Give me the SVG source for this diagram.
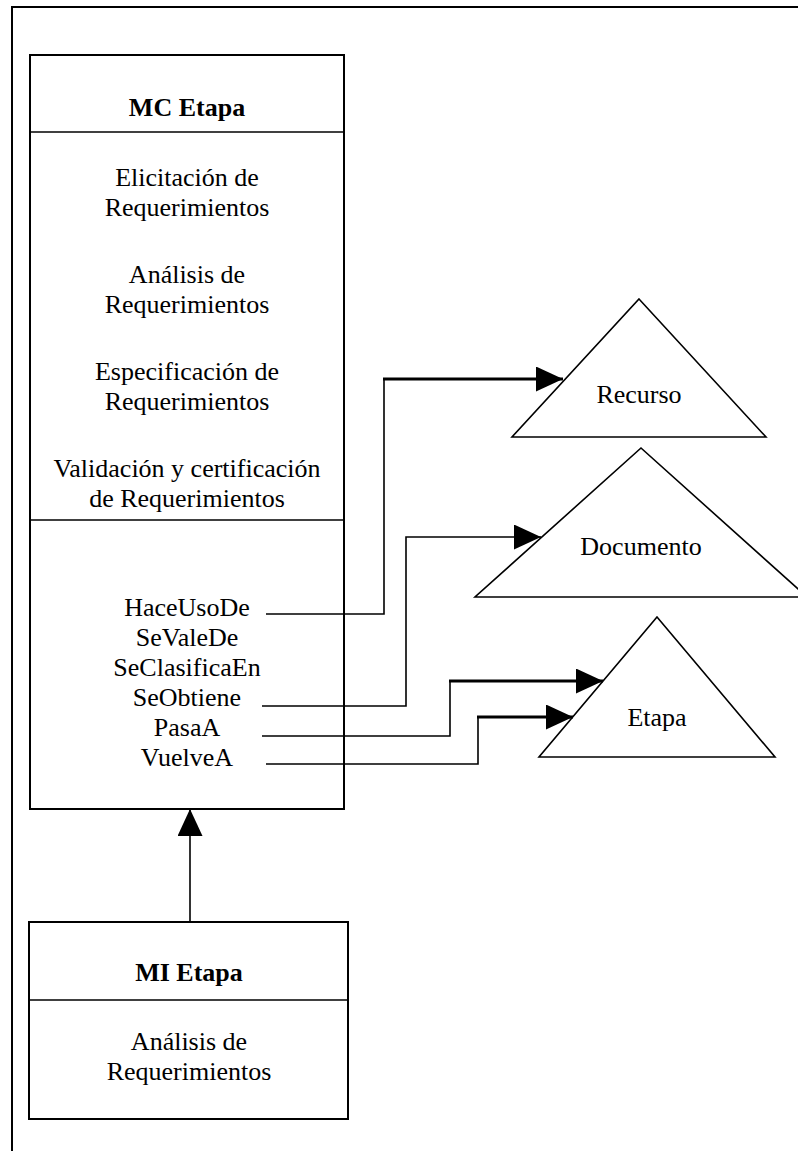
<svg xmlns="http://www.w3.org/2000/svg" width="798" height="1151" viewBox="0 0 798 1151">
<style>
text{font-family:"Liberation Serif","Times New Roman",serif;font-size:26px;fill:#000;text-anchor:middle}
.b{font-weight:bold}
.box{fill:#fff;stroke:#000;stroke-width:2}
.tri{fill:#fff;stroke:#000;stroke-width:1.6}
.ln{fill:none;stroke:#000;stroke-width:1.6}
.thk{fill:none;stroke:#000;stroke-width:3}
</style>
<defs>
<marker id="ah" markerUnits="userSpaceOnUse" markerWidth="28" markerHeight="26" refX="27" refY="12.5" orient="auto">
<path d="M0,0 L27,12.5 L0,25 Z" fill="#000"/>
</marker>
</defs>
<rect x="12" y="7" width="800" height="1160" fill="#fff" stroke="#000" stroke-width="2"/>
<g id="mc-etapa">
<rect class="box" x="30" y="55" width="314" height="754"/>
<line class="ln" x1="30" y1="132" x2="344" y2="132" stroke-width="2"/>
<line class="ln" x1="30" y1="520" x2="344" y2="520" stroke-width="2"/>
<text class="b" x="187" y="116">MC Etapa</text>
<text x="187" y="186">Elicitación de</text>
<text x="187" y="216">Requerimientos</text>
<text x="187" y="283">Análisis de</text>
<text x="187" y="313">Requerimientos</text>
<text x="187" y="380">Especificación de</text>
<text x="187" y="410">Requerimientos</text>
<text x="187" y="477">Validación y certificación</text>
<text x="187" y="507">de Requerimientos</text>
<text x="187" y="616">HaceUsoDe</text>
<text x="187" y="646">SeValeDe</text>
<text x="187" y="676">SeClasificaEn</text>
<text x="187" y="706">SeObtiene</text>
<text x="187" y="736">PasaA</text>
<text x="187" y="766">VuelveA</text>
</g>
<g id="mi-etapa">
<rect class="box" x="29" y="922" width="319" height="197"/>
<line class="ln" x1="29" y1="1000" x2="348" y2="1000" stroke-width="2"/>
<text class="b" x="189" y="981">MI Etapa</text>
<text x="189" y="1050">Análisis de</text>
<text x="189" y="1080">Requerimientos</text>
</g>
<g id="recurso">
<polygon class="tri" points="639,299 766,437 512,437"/>
<text x="639" y="403">Recurso</text>
</g>
<g id="documento">
<polygon class="tri" points="641,448 807,597 475,597"/>
<text x="641" y="555">Documento</text>
</g>
<g id="etapa">
<polygon class="tri" points="657,617 775,757 539,757"/>
<text x="657" y="726">Etapa</text>
</g>
<g id="connectors">
<polyline class="ln" points="266,614 384,614 384,379"/>
<polyline class="thk" points="383,379 563,379" marker-end="url(#ah)"/>
<polyline class="ln" points="262,706 406,706 406,537 541,537" marker-end="url(#ah)"/>
<polyline class="ln" points="262,736 450,736 450,681"/>
<polyline class="thk" points="449,681 603,681" marker-end="url(#ah)"/>
<polyline class="ln" points="266,764 478,764 478,717"/>
<polyline class="thk" points="477,717 573,717" marker-end="url(#ah)"/>
<line class="ln" x1="190" y1="922" x2="190" y2="809" stroke-width="2" marker-end="url(#ah)"/>
</g>
</svg>
